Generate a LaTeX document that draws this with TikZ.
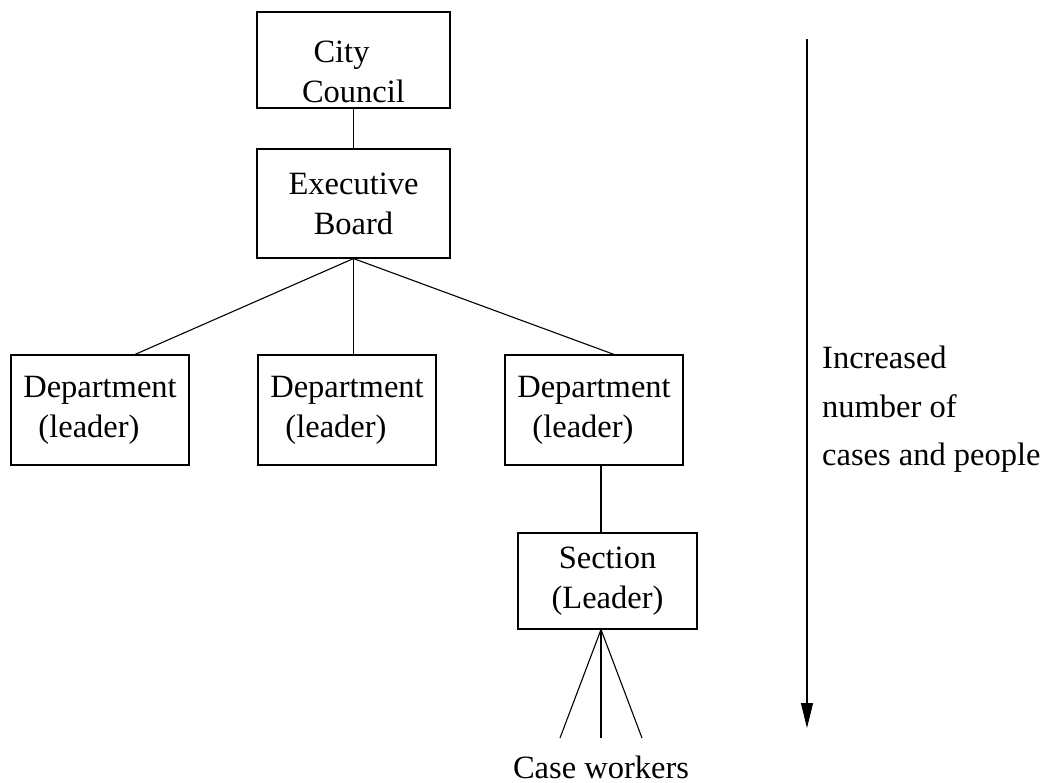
\documentclass[tikz,border=0pt]{standalone}
\usepackage{fontspec}
\setmainfont{Liberation Serif}
\usetikzlibrary{arrows.meta}
\begin{document}
\begin{tikzpicture}[x=1pt,y=-1pt,
  every node/.style={font=\fontsize{32.5}{40}\selectfont},
  unit/.style={draw, line width=1.1pt, inner sep=0pt, align=center},
  link/.style={line width=1.1pt},
  note/.style={inner sep=0pt, align=left}]
  \useasboundingbox (0,0) rectangle (1046,783);

  % hierarchy boxes
  \node[unit, minimum width=193, minimum height=96] (cc) at (353.5,60)
    {\rule{0pt}{46pt}City\hspace*{24pt}\\Council};
  \node[unit, minimum width=193, minimum height=109] (eb) at (353.5,203.5)
    {Executive\\Board};
  \node[unit, minimum width=178, minimum height=110] (d1) at (100,410)
    {Department\\(leader)\hspace*{22pt}};
  \node[unit, minimum width=178, minimum height=110] (d2) at (347,410)
    {Department\\(leader)\hspace*{22pt}};
  \node[unit, minimum width=178, minimum height=110] (d3) at (594,410)
    {Department\\(leader)\hspace*{22pt}};
  \node[unit, minimum width=179, minimum height=96] (sec) at (607.5,581)
    {Section\\(Leader)};

  % reporting lines
  \draw[link] (cc.south) -- (eb.north);
  \draw[link] (eb.south) -- ([xshift=35]d1.north);
  \draw[link] (eb.south) -- (eb.south |- d2.north);
  \draw[link] (eb.south) -- ([xshift=20]d3.north);
  \draw[link] ([xshift=-6.5]sec.north |- d3.south) -- ([xshift=-6.5]sec.north);

  % case workers under the section
  \coordinate (fan) at ([xshift=-6.5]sec.south);
  \coordinate (w1) at (560,738);
  \coordinate (w2) at (601,738);
  \coordinate (w3) at (642,738);
  \draw[link] (fan) -- (w1);
  \draw[link] (fan) -- (w2);
  \draw[link] (fan) -- (w3);
  \node[inner sep=0pt, anchor=base] (cw) at (601,778) {Case workers};

  % growth arrow and its note
  \coordinate (top) at (807,39);
  \coordinate (bottom) at (807,728);
  \draw[line width=1.1pt, -{Triangle[length=25pt,width=12pt]}] (top) -- (bottom);
  \node[note, anchor=north west, font=\fontsize{32.5}{48.5}\selectfont] (txt) at (822,346)
    {Increased\\number of\\cases and people};
\end{tikzpicture}
\end{document}
